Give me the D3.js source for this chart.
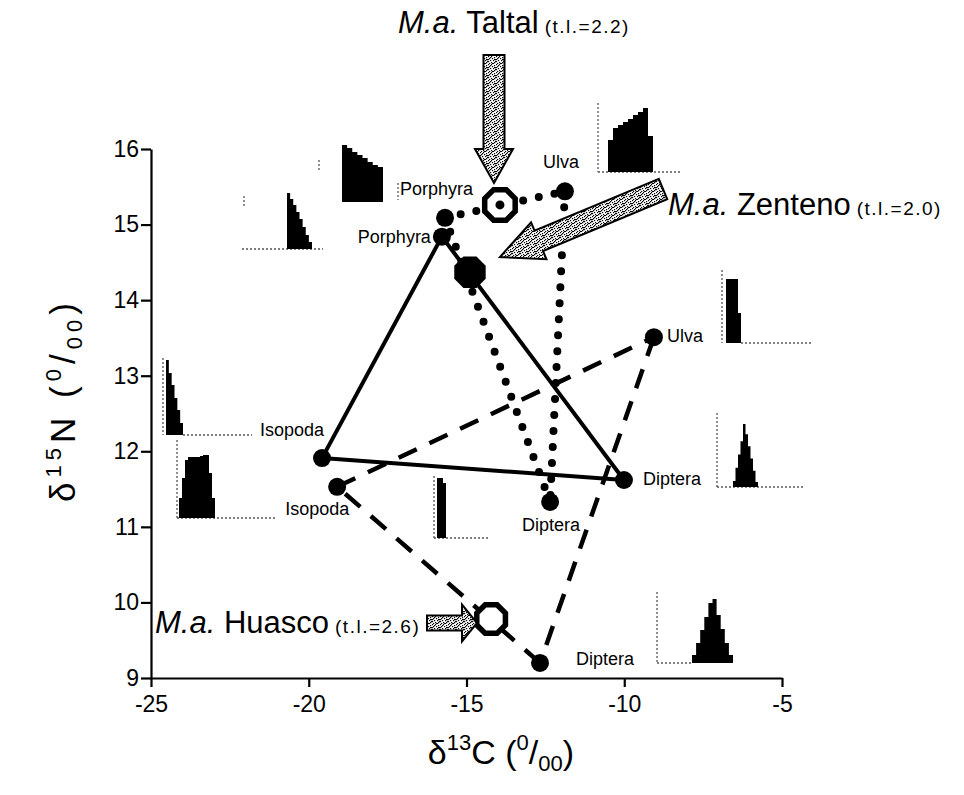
<!DOCTYPE html>
<html>
<head>
<meta charset="utf-8">
<script src="https://cdn.jsdelivr.net/npm/d3@7"></script>
<style>
  body { margin: 0; background: #fff; }
  text { font-family: "Liberation Sans", Arial, Helvetica, sans-serif; }
</style>
</head>
<body>
<svg id="chart" width="964" height="795"></svg>
<script>
// ---- data: mean δ13C / δ15N of food sources at each site ----
const zentenoNames = ["Porphyra", "Isopoda", "Diptera"];
const zentenoC = [-15.78, -19.58, -10.01];
const zentenoN = [14.84, 11.91, 11.62];

const taltalNames = ["Porphyra", "Ulva", "Diptera"];
const taltalC = [-15.68, -11.88, -12.35];
const taltalN = [15.09, 15.44, 11.33];

const huascoNames = ["Isopoda", "Ulva", "Diptera"];
const huascoC = [-19.10, -9.06, -12.67];
const huascoN = [11.53, 13.51, 9.20];

// consumer (M.a.) signatures and trophic levels
const consumerSites = ["Zenteno", "Taltal", "Huasco"];
const consumerC = [-14.89, -13.94, -14.22];
const consumerN = [14.37, 15.26, 9.78];
const consumerTL = ["2.0", "2.2", "2.6"];

// axis ticks
const xTicks = [-25, -20, -15, -10, -5];
const yTicks = [9, 10, 11, 12, 13, 14, 15, 16];

// source-contribution frequency distributions (mixing model output)
const histPorphyraTaltal = [57, 54, 50, 47, 44, 40, 37, 35];
const histPorphyraZenteno = [56, 50, 44, 37, 30, 22, 14, 7];
const histUlvaTaltal = [32, 44, 47, 50, 53, 57, 60, 64, 36];
const histUlvaHuasco = [64, 64, 64, 64, 30];
const histDipteraZenteno = [6, 19, 32, 45, 62, 52, 40, 28, 16, 5];
const histIsopodaZenteno = [75, 62, 50, 37, 25, 12];
const histIsopodaHuasco = [20, 40, 58, 61, 61, 61, 61, 62, 63, 63, 45, 20];
const histDipteraTaltal = [60, 60, 55];
const histDipteraHuasco = [8, 20, 33, 46, 60, 64, 48, 34, 20, 8];

// ---- layout ----
const svg = d3.select("#chart");
const x = d3.scaleLinear().domain([-25, -5]).range([151, 782]);
const y = d3.scaleLinear().domain([9, 16]).range([678, 149]);

const defs = svg.append("defs");
const pat = defs.append("pattern").attr("id", "stipple")
  .attr("width", 8).attr("height", 8).attr("patternUnits", "userSpaceOnUse");
pat.append("rect").attr("width", 8).attr("height", 8).attr("fill", "#fff");
const speck = [[0,0],[3,0],[6,1],[1,2],[4,2],[7,3],[2,4],[5,4],[0,5],[3,6],[6,6],[1,7],[4,7],[7,5],[2,1],[5,7],[6,3],[0,3]];
speck.forEach(([a, b]) => pat.append("rect").attr("x", a).attr("y", b).attr("width", 1.2).attr("height", 1.2).attr("fill", "#000"));

// ---- axes ----
const styleAxis = g => {
  g.attr("font-family", "Liberation Sans, Arial, sans-serif").attr("font-size", 23);
  g.select(".domain").attr("stroke", "#000").attr("stroke-width", 2.2);
  g.selectAll(".tick line").attr("stroke", "#000").attr("stroke-width", 2.2);
  g.selectAll(".tick text").attr("fill", "#000");
};
const fmt = d => String(d);
svg.append("g").attr("transform", "translate(0,678)")
  .call(d3.axisBottom(x).tickValues(xTicks).tickFormat(fmt).tickSize(9).tickPadding(9).tickSizeOuter(0))
  .call(styleAxis);
svg.append("g").attr("transform", "translate(151,0)")
  .call(d3.axisLeft(y).tickValues(yTicks).tickFormat(fmt).tickSize(10).tickPadding(2).tickSizeOuter(0))
  .call(styleAxis);

// axis titles: δ13C (0/00) and δ15N (0/00)
function isoLabel(t, el) {
  t.append("tspan").text("δ");
  t.append("tspan").attr("font-size", 22).attr("dy", -14).text(el.sup);
  t.append("tspan").attr("dy", 14).text(el.letter + " (");
  t.append("tspan").attr("font-size", 22).attr("dy", -14).text("0");
  t.append("tspan").attr("dy", 14).text("/");
  t.append("tspan").attr("font-size", 22).attr("dy", 7).text("00");
  t.append("tspan").attr("dy", -7).text(")");
}
isoLabel(svg.append("text").attr("x", 501).attr("y", 764).attr("text-anchor", "middle")
  .attr("font-size", 34), { sup: "13", letter: "C" });
isoLabel(svg.append("text").attr("transform", "translate(75,400) rotate(-90)")
  .attr("text-anchor", "middle").attr("font-size", 35).attr("letter-spacing", 5),
  { sup: "15", letter: "N" });

// ---- mixing polygons ----
const sets = [
  { names: zentenoNames, c: zentenoC, n: zentenoN, dash: null, width: 4, cap: "butt" },
  { names: taltalNames, c: taltalC, n: taltalN, dash: "0 16", width: 8, cap: "round" },
  { names: huascoNames, c: huascoC, n: huascoN, dash: "20 14", width: 4.5, cap: "butt" }
];
sets.forEach(s => {
  for (let i = 0; i < 3; i++) {
    const j = (i + 1) % 3;
    svg.append("line")
      .attr("x1", x(s.c[i])).attr("y1", y(s.n[i]))
      .attr("x2", x(s.c[j])).attr("y2", y(s.n[j]))
      .attr("stroke", "#000").attr("stroke-width", s.width)
      .attr("stroke-linecap", s.cap)
      .attr("stroke-dasharray", s.dash);
  }
});
sets.forEach(s => {
  svg.selectAll(null).data(s.c).enter().append("circle")
    .attr("cx", d => x(d)).attr("cy", (d, i) => y(s.n[i]))
    .attr("r", 9).attr("fill", "#000");
});

// source labels (offsets from each point)
const labelOffsets = [
  [[-11, 6, "end"], [-62, -22, "start"], [19, 5, "start"]],
  [[-45, -23, "start"], [-22, -23, "start"], [-28, 29, "start"]],
  [[-52, 28, "start"], [13, 5, "start"], [36, 2, "start"]]
];
sets.forEach((s, k) => {
  s.names.forEach((nm, i) => {
    const o = labelOffsets[k][i];
    svg.append("text").attr("x", x(s.c[i]) + o[0]).attr("y", y(s.n[i]) + o[1])
      .attr("text-anchor", o[2]).attr("font-size", 18).text(nm);
  });
});

// ---- consumers (octagons) ----
function octagon(cx, cy, r) {
  return d3.range(8).map(k => {
    const a = Math.PI / 8 + k * Math.PI / 4;
    return [cx + r * Math.cos(a), cy + r * Math.sin(a)];
  });
}
const line = d3.line().curve(d3.curveLinearClosed);
// Zenteno: filled
svg.append("path").attr("d", line(octagon(x(consumerC[0]), y(consumerN[0]), 17))).attr("fill", "#000");
// Taltal: open with centre dot
svg.append("path").attr("d", line(octagon(x(consumerC[1]), y(consumerN[1]), 16.5)))
  .attr("fill", "#fff").attr("stroke", "#000").attr("stroke-width", 5.5);
svg.append("circle").attr("cx", x(consumerC[1])).attr("cy", y(consumerN[1])).attr("r", 4.5).attr("fill", "#000");
// Huasco: open
svg.append("path").attr("d", line(octagon(x(consumerC[2]), y(consumerN[2]), 15.5)))
  .attr("fill", "#fff").attr("stroke", "#000").attr("stroke-width", 5.5);

// ---- block arrows pointing at consumers ----
function arrow(tail, tip, sw, hw, hl) {
  const dx = tip[0] - tail[0], dy = tip[1] - tail[1], L = Math.hypot(dx, dy);
  const ux = dx / L, uy = dy / L, px = -uy, py = ux;
  const bx = tip[0] - ux * hl, by = tip[1] - uy * hl;
  return [
    [tail[0] + px * sw, tail[1] + py * sw], [bx + px * sw, by + py * sw],
    [bx + px * hw, by + py * hw], tip,
    [bx - px * hw, by - py * hw], [bx - px * sw, by - py * sw],
    [tail[0] - px * sw, tail[1] - py * sw]
  ];
}
const arrows = [
  arrow([494, 55], [494, 183], 10.5, 19, 34),
  arrow([663, 189], [500, 257], 11, 20, 42),
  arrow([427, 623], [477, 623], 7.5, 18.5, 15)
];
arrows.forEach(a => svg.append("path").attr("d", line(a))
  .attr("fill", "url(#stipple)").attr("stroke", "#000").attr("stroke-width", 2).attr("stroke-linejoin", "miter"));

// consumer titles
const titlePos = [[668, 215], [398, 33], [155, 633]];
consumerSites.forEach((site, i) => {
  const t = svg.append("text").attr("x", titlePos[i][0]).attr("y", titlePos[i][1]).attr("font-size", 31);
  t.append("tspan").attr("font-style", "italic").text("M.a.");
  t.append("tspan").text(" " + site);
  t.append("tspan").attr("dx", 6).attr("font-size", 19).attr("letter-spacing", 1.5)
    .text("(t.l.=" + consumerTL[i] + ")");
});

// ---- inset distributions ----
const insets = [
  { bins: histPorphyraTaltal, x0: 342, x1: 383, base: 202, h: 57, axis: [319, 160, 172], axis2: [398, 183, 200] },
  { bins: histPorphyraZenteno, x0: 287, x1: 312, base: 249, h: 56, axis: [244, 196, 206], baseline: [242, 323] },
  { bins: histUlvaTaltal, x0: 608, x1: 653, base: 172, h: 64, axis: [598, 103, 172], baseline: [598, 680] },
  { bins: histUlvaHuasco, x0: 726, x1: 741, base: 343, h: 64, axis: [722, 270, 343], baseline: [741, 813] },
  { bins: histDipteraZenteno, x0: 733, x1: 758, base: 487, h: 63, axis: [717, 413, 487], baseline: [717, 803] },
  { bins: histIsopodaZenteno, x0: 166, x1: 183, base: 435, h: 75, axis: [163, 358, 435], baseline: [183, 252] },
  { bins: histIsopodaHuasco, x0: 179, x1: 215, base: 518, h: 63, axis: [177, 440, 518], baseline: [177, 275] },
  { bins: histDipteraTaltal, x0: 437, x1: 446, base: 538, h: 60, axis: [434, 476, 538], baseline: [434, 490] },
  { bins: histDipteraHuasco, x0: 692, x1: 733, base: 663, h: 64, axis: [657, 592, 663], baseline: [657, 692] }
];
insets.forEach(ins => {
  const g = svg.append("g");
  const bx = d3.scaleLinear().domain([0, ins.bins.length]).range([ins.x0, ins.x1]);
  const by = d3.scaleLinear().domain([0, d3.max(ins.bins)]).range([ins.base, ins.base - ins.h]);
  const faint = sel => sel.attr("stroke", "#555").attr("stroke-width", 1.3).attr("stroke-dasharray", "2 2");
  if (ins.axis) g.append("line").attr("x1", ins.axis[0]).attr("x2", ins.axis[0])
    .attr("y1", ins.axis[1]).attr("y2", ins.axis[2]).call(faint);
  if (ins.axis2) g.append("line").attr("x1", ins.axis2[0]).attr("x2", ins.axis2[0])
    .attr("y1", ins.axis2[1]).attr("y2", ins.axis2[2]).call(faint);
  if (ins.baseline) g.append("line").attr("x1", ins.baseline[0]).attr("x2", ins.baseline[1])
    .attr("y1", ins.base).attr("y2", ins.base).call(faint);
  // step outline of the distribution, closed along the baseline
  const pts = ins.bins.map((d, i) => [i, d]).concat([[ins.bins.length, ins.bins[ins.bins.length - 1]]]);
  const area = d3.area().curve(d3.curveStepAfter)
    .x(p => bx(p[0])).y0(ins.base).y1(p => by(p[1]));
  g.append("path").attr("d", area(pts)).attr("fill", "#000");
});
</script>
</body>
</html>
